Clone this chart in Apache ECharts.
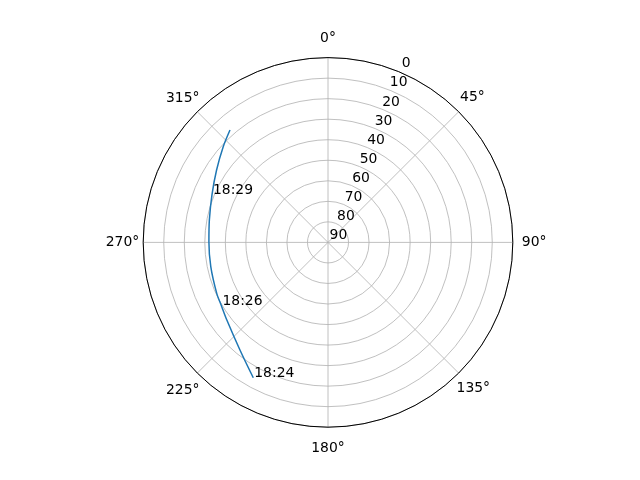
<!DOCTYPE html>
<html><head><meta charset="utf-8">
<script src="https://cdn.jsdelivr.net/npm/echarts@6/dist/echarts.min.js"></script>
<style>html,body{margin:0;padding:0;background:#fff}#c{width:640px;height:480px}</style>
</head><body><div id="c"></div>
<script>
// Sky track: azimuth (deg, clockwise from north) and elevation (deg)
const times = ['18:24', '', '', '18:26', '', '', '', '', '18:29', '', '', ''];
const azimuth = [208.9, 219.3, 232.5, 239.2, 245.4, 258.3, 270.3, 280.7, 292.4, 303.0, 312.4, 318.9];
const elevation = [14.7, 22.3, 27.9, 29.6, 30.4, 31.7, 32.0, 31.2, 28.9, 25.3, 20.9, 17.4];
const angleStep = 45;
const radiusStep = 10;

const FONT = 'DejaVu Sans';
const FS = 13.9;
const GRID = '#b0b0b0';

// per-label padding so angle labels sit like the reference
const labelPad = {
  0: [0, 0, 15, 0], 45: [0, 0, 9.5, 3.5], 90: [0, 0, 0, 12], 135: [10, 0, 0, 0],
  180: [17, 0, 0, 0], 225: [12, 0, 0, 0], 270: [0, 7, 0, 0], 315: [0, 0, 8.5, 0]
};
const rich = {};
Object.keys(labelPad).forEach(k => {
  rich['a' + k] = {padding: labelPad[k], fontFamily: FONT, fontSize: FS, color: '#000'};
});

const chart = echarts.init(document.getElementById('c'), null, {renderer: 'canvas'});
const center = ['51.25%', '50.5%'];
const R = 184.8;

chart.setOption({
  animation: false,
  backgroundColor: '#fff',
  textStyle: {fontFamily: FONT},
  polar: [
    {center: center, radius: R},
    {center: ['53.17%', '49.25%'], radius: R}
  ],
  angleAxis: [
    {
      polarIndex: 0, type: 'value', min: 0, max: 360, interval: angleStep,
      startAngle: 90, clockwise: true,
      axisLine: {show: true, lineStyle: {color: '#000', width: 1}},
      axisTick: {show: false},
      splitLine: {show: true, lineStyle: {color: GRID, width: 0.8}},
      axisLabel: {
        margin: -3, color: '#000', fontFamily: FONT, fontSize: FS,
        formatter: function (v) {
          return rich['a' + v] ? '{a' + v + '|' + v + '°}' : v + '°';
        },
        rich: rich
      }
    },
    {
      polarIndex: 1, type: 'value', min: 0, max: 360, startAngle: 68.5, clockwise: true,
      axisLine: {show: false}, axisTick: {show: false}, axisLabel: {show: false}, splitLine: {show: false}
    }
  ],
  radiusAxis: [
    {
      polarIndex: 0, type: 'value', min: 0, max: 90, interval: radiusStep, inverse: true,
      axisLine: {show: false}, axisTick: {show: false}, axisLabel: {show: false},
      splitLine: {show: true, lineStyle: {color: GRID, width: 0.8}}
    },
    {
      polarIndex: 1, type: 'value', min: 0, max: 90, interval: radiusStep, inverse: true,
      axisLine: {show: false}, axisTick: {show: false}, splitLine: {show: false},
      axisLabel: {show: true, margin: 2, align: 'center', color: '#000', fontFamily: FONT, fontSize: FS}
    }
  ],
  series: [{
    type: 'line',
    coordinateSystem: 'polar',
    polarIndex: 0,
    data: elevation.map((e, i) => [e, azimuth[i]]),
    showSymbol: true,
    symbol: 'circle',
    symbolSize: 0,
    smooth: 0.3,
    lineStyle: {color: '#1f77b4', width: 1.5},
    itemStyle: {color: '#1f77b4'},
    label: {
      show: true,
      position: 'right',
      distance: 1,
      offset: [0, -4.5],
      color: '#000',
      fontFamily: FONT,
      fontSize: FS,
      formatter: p => times[p.dataIndex]
    },
    z: 5
  }]
});
</script></body></html>
